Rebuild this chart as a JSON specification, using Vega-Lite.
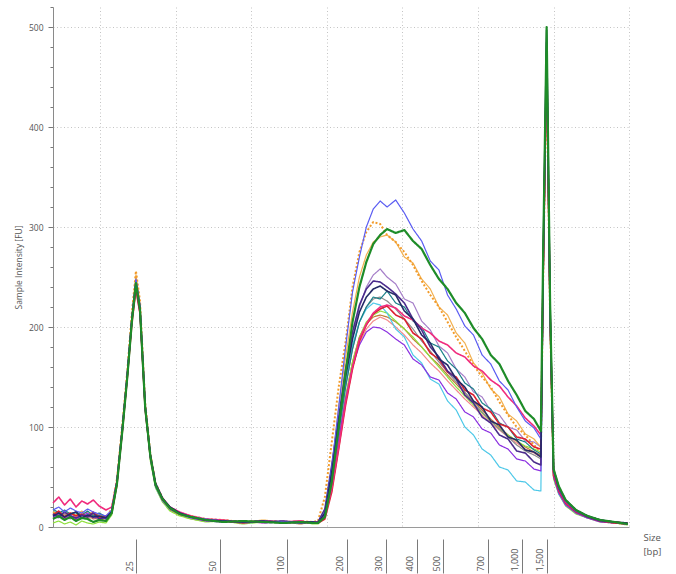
{
"$schema":"https://vega.github.io/schema/vega-lite/v6.json",
"width":576,"height":520,"autosize":"none",
"padding":{"left":53,"top":7,"right":47,"bottom":47},
"background":"white",
"config":{"view":{"stroke":null},"font":"Open Sans"},
"layer":[
{"data":{"values":[{"m":0,"v":0},{"m":100,"v":520}]},
"mark":{"type":"point","opacity":0},
"encoding":{
"x":{"field":"m","type":"quantitative","scale":{"domain":[0,100],"nice":false,"zero":false},
"axis":{"orient":"bottom","values":[8.16,21.28,34.41,47.53,60.66,73.78,86.91,100],"grid":true,"gridColor":"#c4c4c4","gridDash":[1,2.5],"gridWidth":1,"ticks":false,"labels":false,"domain":true,"domainColor":"#9a9a9a","domainWidth":1,"title":null,"zindex":0}},
"y":{"field":"v","type":"quantitative","scale":{"domain":[0,520],"nice":false,"zero":true},
"axis":{"orient":"left","values":[20,40,60,80,120,140,160,180,220,240,260,280,320,340,360,380,420,440,460,480,520],"grid":false,"ticks":true,"tickSize":3,"tickColor":"#777","labels":false,"domain":false,"title":null}}}},
{"data":{"values":[
{"s":"O","m":0,"v":12},{"s":"O","m":1,"v":10},{"s":"O","m":2,"v":14},{"s":"O","m":3,"v":9},{"s":"O","m":4,"v":11},{"s":"O","m":5,"v":13},{"s":"O","m":6,"v":8},{"s":"O","m":7,"v":10},{"s":"O","m":8,"v":7},{"s":"O","m":9.2,"v":9},
{"s":"O","m":10.2,"v":16},{"s":"O","m":11.1,"v":44},{"s":"O","m":12,"v":92},{"s":"O","m":12.9,"v":148},{"s":"O","m":13.7,"v":200},{"s":"O","m":14.4,"v":236},{"s":"O","m":15.1,"v":212},{"s":"O","m":16,"v":115},{"s":"O","m":16.9,"v":70},{"s":"O","m":17.8,"v":40},{"s":"O","m":19,"v":27},{"s":"O","m":20.3,"v":18},
{"s":"O","m":22,"v":13},{"s":"O","m":24,"v":9},{"s":"O","m":26.5,"v":7},{"s":"O","m":29.5,"v":5},{"s":"O","m":33,"v":6},{"s":"O","m":36.5,"v":4},{"s":"O","m":40,"v":6},{"s":"O","m":43,"v":5},{"s":"O","m":45,"v":4},
{"s":"O","m":46,"v":4},{"s":"O","m":47.2,"v":10},{"s":"O","m":48.4,"v":40},{"s":"O","m":49.6,"v":82},{"s":"O","m":50.8,"v":125},{"s":"O","m":52,"v":160},{"s":"O","m":53.2,"v":184},{"s":"O","m":54.4,"v":198},{"s":"O","m":55.6,"v":206},{"s":"O","m":56.8,"v":210},{"s":"O","m":58,"v":207},{"s":"O","m":59.5,"v":200},{"s":"O","m":61,"v":192},{"s":"O","m":62.5,"v":182},{"s":"O","m":64,"v":174},{"s":"O","m":65.5,"v":164},{"s":"O","m":67,"v":156},{"s":"O","m":68.5,"v":146},{"s":"O","m":70,"v":137},{"s":"O","m":71.5,"v":128},{"s":"O","m":73,"v":120},{"s":"O","m":74.5,"v":112},{"s":"O","m":76,"v":104},{"s":"O","m":77.5,"v":97},{"s":"O","m":79,"v":90},{"s":"O","m":80.5,"v":84},{"s":"O","m":82,"v":78},{"s":"O","m":83.5,"v":74},{"s":"O","m":84.7,"v":70},
{"s":"O","m":85.1,"v":240},{"s":"O","m":85.7,"v":455},{"s":"O","m":86.3,"v":210},{"s":"O","m":86.9,"v":52},
{"s":"O","m":87.8,"v":34},{"s":"O","m":89,"v":22},{"s":"O","m":90.8,"v":14},{"s":"O","m":92.8,"v":9},{"s":"O","m":95,"v":6},{"s":"O","m":97.5,"v":4},{"s":"O","m":99.8,"v":3},

{"s":"P","m":0,"v":9},{"s":"P","m":1,"v":12},{"s":"P","m":2,"v":8},{"s":"P","m":3,"v":11},{"s":"P","m":4,"v":7},{"s":"P","m":5,"v":10},{"s":"P","m":6,"v":12},{"s":"P","m":7,"v":8},{"s":"P","m":8,"v":9},{"s":"P","m":9.2,"v":6},
{"s":"P","m":10.2,"v":14},{"s":"P","m":11.1,"v":46},{"s":"P","m":12,"v":96},{"s":"P","m":12.9,"v":152},{"s":"P","m":13.7,"v":206},{"s":"P","m":14.4,"v":243},{"s":"P","m":15.1,"v":218},{"s":"P","m":16,"v":120},{"s":"P","m":16.9,"v":68},{"s":"P","m":17.8,"v":41},{"s":"P","m":19,"v":26},{"s":"P","m":20.3,"v":17},
{"s":"P","m":22,"v":12},{"s":"P","m":24,"v":8},{"s":"P","m":26.5,"v":6},{"s":"P","m":29.5,"v":7},{"s":"P","m":33,"v":4},{"s":"P","m":36.5,"v":6},{"s":"P","m":40,"v":5},{"s":"P","m":43,"v":3},{"s":"P","m":45,"v":5},
{"s":"P","m":46,"v":4},{"s":"P","m":47.2,"v":12},{"s":"P","m":48.4,"v":45},{"s":"P","m":49.6,"v":88},{"s":"P","m":50.8,"v":130},{"s":"P","m":52,"v":165},{"s":"P","m":53.2,"v":190},{"s":"P","m":54.4,"v":203},{"s":"P","m":55.6,"v":210},{"s":"P","m":56.8,"v":212},{"s":"P","m":58,"v":210},{"s":"P","m":59.5,"v":205},{"s":"P","m":61,"v":198},{"s":"P","m":62.5,"v":188},{"s":"P","m":64,"v":180},{"s":"P","m":65.5,"v":170},{"s":"P","m":67,"v":162},{"s":"P","m":68.5,"v":152},{"s":"P","m":70,"v":143},{"s":"P","m":71.5,"v":134},{"s":"P","m":73,"v":126},{"s":"P","m":74.5,"v":117},{"s":"P","m":76,"v":108},{"s":"P","m":77.5,"v":100},{"s":"P","m":79,"v":92},{"s":"P","m":80.5,"v":86},{"s":"P","m":82,"v":80},{"s":"P","m":83.5,"v":75},{"s":"P","m":84.7,"v":72},
{"s":"P","m":85.1,"v":250},{"s":"P","m":85.7,"v":470},{"s":"P","m":86.3,"v":205},{"s":"P","m":86.9,"v":50},
{"s":"P","m":87.8,"v":38},{"s":"P","m":89,"v":25},{"s":"P","m":90.8,"v":16},{"s":"P","m":92.8,"v":11},{"s":"P","m":95,"v":7},{"s":"P","m":97.5,"v":5},{"s":"P","m":99.8,"v":4},

{"s":"K","m":0,"v":4},{"s":"K","m":1,"v":6},{"s":"K","m":2,"v":3},{"s":"K","m":3,"v":5},{"s":"K","m":4,"v":2},{"s":"K","m":5,"v":6},{"s":"K","m":6,"v":4},{"s":"K","m":7,"v":3},{"s":"K","m":8,"v":5},{"s":"K","m":9.2,"v":4},
{"s":"K","m":10.2,"v":12},{"s":"K","m":11.1,"v":42},{"s":"K","m":12,"v":94},{"s":"K","m":12.9,"v":150},{"s":"K","m":13.7,"v":208},{"s":"K","m":14.4,"v":250},{"s":"K","m":15.1,"v":220},{"s":"K","m":16,"v":118},{"s":"K","m":16.9,"v":66},{"s":"K","m":17.8,"v":39},{"s":"K","m":19,"v":25},{"s":"K","m":20.3,"v":16},
{"s":"K","m":22,"v":11},{"s":"K","m":24,"v":8},{"s":"K","m":26.5,"v":5},{"s":"K","m":29.5,"v":6},{"s":"K","m":33,"v":3},{"s":"K","m":36.5,"v":5},{"s":"K","m":40,"v":4},{"s":"K","m":43,"v":6},{"s":"K","m":45,"v":3},
{"s":"K","m":46,"v":3},{"s":"K","m":47.2,"v":10},{"s":"K","m":48.4,"v":40},{"s":"K","m":49.6,"v":85},{"s":"K","m":50.8,"v":130},{"s":"K","m":52,"v":165},{"s":"K","m":53.2,"v":190},{"s":"K","m":54.4,"v":205},{"s":"K","m":55.6,"v":212},{"s":"K","m":56.8,"v":216},{"s":"K","m":58,"v":214},{"s":"K","m":59.5,"v":206},{"s":"K","m":61,"v":198},{"s":"K","m":62.5,"v":190},{"s":"K","m":64,"v":180},{"s":"K","m":65.5,"v":170},{"s":"K","m":67,"v":160},{"s":"K","m":68.5,"v":150},{"s":"K","m":70,"v":140},{"s":"K","m":71.5,"v":131},{"s":"K","m":73,"v":122},{"s":"K","m":74.5,"v":114},{"s":"K","m":76,"v":106},{"s":"K","m":77.5,"v":98},{"s":"K","m":79,"v":92},{"s":"K","m":80.5,"v":86},{"s":"K","m":82,"v":81},{"s":"K","m":83.5,"v":78},{"s":"K","m":84.7,"v":75},
{"s":"K","m":85.1,"v":245},{"s":"K","m":85.7,"v":460},{"s":"K","m":86.3,"v":200},{"s":"K","m":86.9,"v":48},
{"s":"K","m":87.8,"v":33},{"s":"K","m":89,"v":21},{"s":"K","m":90.8,"v":13},{"s":"K","m":92.8,"v":9},{"s":"K","m":95,"v":5},{"s":"K","m":97.5,"v":4},{"s":"K","m":99.8,"v":2},

{"s":"J","m":0,"v":14},{"s":"J","m":1,"v":11},{"s":"J","m":2,"v":13},{"s":"J","m":3,"v":10},{"s":"J","m":4,"v":12},{"s":"J","m":5,"v":9},{"s":"J","m":6,"v":11},{"s":"J","m":7,"v":13},{"s":"J","m":8,"v":10},{"s":"J","m":9.2,"v":8},
{"s":"J","m":10.2,"v":15},{"s":"J","m":11.1,"v":43},{"s":"J","m":12,"v":95},{"s":"J","m":12.9,"v":151},{"s":"J","m":13.7,"v":207},{"s":"J","m":14.4,"v":244},{"s":"J","m":15.1,"v":216},{"s":"J","m":16,"v":118},{"s":"J","m":16.9,"v":70},{"s":"J","m":17.8,"v":41},{"s":"J","m":19,"v":27},{"s":"J","m":20.3,"v":19},
{"s":"J","m":22,"v":14},{"s":"J","m":24,"v":10},{"s":"J","m":26.5,"v":8},{"s":"J","m":29.5,"v":6},{"s":"J","m":33,"v":5},{"s":"J","m":36.5,"v":6},{"s":"J","m":40,"v":4},{"s":"J","m":43,"v":5},{"s":"J","m":45,"v":5},
{"s":"J","m":46,"v":4},{"s":"J","m":47.2,"v":12},{"s":"J","m":48.4,"v":50},{"s":"J","m":49.6,"v":95},{"s":"J","m":50.8,"v":140},{"s":"J","m":52,"v":178},{"s":"J","m":53.2,"v":205},{"s":"J","m":54.4,"v":220},{"s":"J","m":55.6,"v":228},{"s":"J","m":56.8,"v":230},{"s":"J","m":58,"v":226},{"s":"J","m":59.5,"v":218},{"s":"J","m":61,"v":208},{"s":"J","m":62.5,"v":198},{"s":"J","m":64,"v":186},{"s":"J","m":65.5,"v":176},{"s":"J","m":67,"v":165},{"s":"J","m":68.5,"v":155},{"s":"J","m":70,"v":145},{"s":"J","m":71.5,"v":135},{"s":"J","m":73,"v":124},{"s":"J","m":74.5,"v":115},{"s":"J","m":76,"v":106},{"s":"J","m":77.5,"v":98},{"s":"J","m":79,"v":90},{"s":"J","m":80.5,"v":82},{"s":"J","m":82,"v":76},{"s":"J","m":83.5,"v":72},{"s":"J","m":84.7,"v":68},
{"s":"J","m":85.1,"v":255},{"s":"J","m":85.7,"v":475},{"s":"J","m":86.3,"v":215},{"s":"J","m":86.9,"v":55},
{"s":"J","m":87.8,"v":37},{"s":"J","m":89,"v":24},{"s":"J","m":90.8,"v":15},{"s":"J","m":92.8,"v":10},{"s":"J","m":95,"v":6},{"s":"J","m":97.5,"v":5},{"s":"J","m":99.8,"v":3},

{"s":"E","m":0,"v":11},{"s":"E","m":1,"v":9},{"s":"E","m":2,"v":12},{"s":"E","m":3,"v":8},{"s":"E","m":4,"v":13},{"s":"E","m":5,"v":10},{"s":"E","m":6,"v":9},{"s":"E","m":7,"v":11},{"s":"E","m":8,"v":8},{"s":"E","m":9.2,"v":10},
{"s":"E","m":10.2,"v":16},{"s":"E","m":11.1,"v":46},{"s":"E","m":12,"v":97},{"s":"E","m":12.9,"v":153},{"s":"E","m":13.7,"v":210},{"s":"E","m":14.4,"v":246},{"s":"E","m":15.1,"v":220},{"s":"E","m":16,"v":121},{"s":"E","m":16.9,"v":71},{"s":"E","m":17.8,"v":42},{"s":"E","m":19,"v":28},{"s":"E","m":20.3,"v":18},
{"s":"E","m":22,"v":13},{"s":"E","m":24,"v":9},{"s":"E","m":26.5,"v":7},{"s":"E","m":29.5,"v":6},{"s":"E","m":33,"v":5},{"s":"E","m":36.5,"v":5},{"s":"E","m":40,"v":6},{"s":"E","m":43,"v":4},{"s":"E","m":45,"v":5},
{"s":"E","m":46,"v":4},{"s":"E","m":47.2,"v":12},{"s":"E","m":48.4,"v":50},{"s":"E","m":49.6,"v":100},{"s":"E","m":50.8,"v":150},{"s":"E","m":52,"v":190},{"s":"E","m":53.2,"v":220},{"s":"E","m":54.4,"v":240},{"s":"E","m":55.6,"v":252},{"s":"E","m":56.8,"v":258},{"s":"E","m":58,"v":250},{"s":"E","m":59.5,"v":243},{"s":"E","m":61,"v":228},{"s":"E","m":62.5,"v":224},{"s":"E","m":64,"v":206},{"s":"E","m":65.5,"v":197},{"s":"E","m":67,"v":181},{"s":"E","m":68.5,"v":174},{"s":"E","m":70,"v":158},{"s":"E","m":71.5,"v":150},{"s":"E","m":73,"v":135},{"s":"E","m":74.5,"v":130},{"s":"E","m":76,"v":116},{"s":"E","m":77.5,"v":112},{"s":"E","m":79,"v":100},{"s":"E","m":80.5,"v":97},{"s":"E","m":82,"v":86},{"s":"E","m":83.5,"v":85},{"s":"E","m":84.7,"v":80},
{"s":"E","m":85.1,"v":250},{"s":"E","m":85.7,"v":468},{"s":"E","m":86.3,"v":212},{"s":"E","m":86.9,"v":52},
{"s":"E","m":87.8,"v":35},{"s":"E","m":89,"v":23},{"s":"E","m":90.8,"v":14},{"s":"E","m":92.8,"v":10},{"s":"E","m":95,"v":6},{"s":"E","m":97.5,"v":4},{"s":"E","m":99.8,"v":3},

{"s":"I","m":0,"v":16},{"s":"I","m":1,"v":13},{"s":"I","m":2,"v":15},{"s":"I","m":3,"v":12},{"s":"I","m":4,"v":14},{"s":"I","m":5,"v":11},{"s":"I","m":6,"v":13},{"s":"I","m":7,"v":10},{"s":"I","m":8,"v":12},{"s":"I","m":9.2,"v":9},
{"s":"I","m":10.2,"v":15},{"s":"I","m":11.1,"v":44},{"s":"I","m":12,"v":93},{"s":"I","m":12.9,"v":150},{"s":"I","m":13.7,"v":205},{"s":"I","m":14.4,"v":238},{"s":"I","m":15.1,"v":214},{"s":"I","m":16,"v":117},{"s":"I","m":16.9,"v":68},{"s":"I","m":17.8,"v":40},{"s":"I","m":19,"v":26},{"s":"I","m":20.3,"v":18},
{"s":"I","m":22,"v":13},{"s":"I","m":24,"v":9},{"s":"I","m":26.5,"v":7},{"s":"I","m":29.5,"v":6},{"s":"I","m":33,"v":4},{"s":"I","m":36.5,"v":5},{"s":"I","m":40,"v":5},{"s":"I","m":43,"v":4},{"s":"I","m":45,"v":5},
{"s":"I","m":46,"v":5},{"s":"I","m":47.2,"v":15},{"s":"I","m":48.4,"v":55},{"s":"I","m":49.6,"v":100},{"s":"I","m":50.8,"v":145},{"s":"I","m":52,"v":182},{"s":"I","m":53.2,"v":205},{"s":"I","m":54.4,"v":218},{"s":"I","m":55.6,"v":224},{"s":"I","m":56.8,"v":222},{"s":"I","m":58,"v":214},{"s":"I","m":59.5,"v":198},{"s":"I","m":61,"v":190},{"s":"I","m":62.5,"v":172},{"s":"I","m":64,"v":164},{"s":"I","m":65.5,"v":148},{"s":"I","m":67,"v":143},{"s":"I","m":68.5,"v":126},{"s":"I","m":70,"v":117},{"s":"I","m":71.5,"v":100},{"s":"I","m":73,"v":92},{"s":"I","m":74.5,"v":78},{"s":"I","m":76,"v":72},{"s":"I","m":77.5,"v":60},{"s":"I","m":79,"v":57},{"s":"I","m":80.5,"v":46},{"s":"I","m":82,"v":45},{"s":"I","m":83.5,"v":37},{"s":"I","m":84.7,"v":36},
{"s":"I","m":85.1,"v":240},{"s":"I","m":85.7,"v":460},{"s":"I","m":86.3,"v":205},{"s":"I","m":86.9,"v":50},
{"s":"I","m":87.8,"v":33},{"s":"I","m":89,"v":22},{"s":"I","m":90.8,"v":14},{"s":"I","m":92.8,"v":9},{"s":"I","m":95,"v":6},{"s":"I","m":97.5,"v":4},{"s":"I","m":99.8,"v":3},

{"s":"D","m":0,"v":13},{"s":"D","m":1,"v":15},{"s":"D","m":2,"v":11},{"s":"D","m":3,"v":14},{"s":"D","m":4,"v":12},{"s":"D","m":5,"v":16},{"s":"D","m":6,"v":10},{"s":"D","m":7,"v":13},{"s":"D","m":8,"v":11},{"s":"D","m":9.2,"v":9},
{"s":"D","m":10.2,"v":17},{"s":"D","m":11.1,"v":47},{"s":"D","m":12,"v":99},{"s":"D","m":12.9,"v":155},{"s":"D","m":13.7,"v":212},{"s":"D","m":14.4,"v":252},{"s":"D","m":15.1,"v":224},{"s":"D","m":16,"v":123},{"s":"D","m":16.9,"v":72},{"s":"D","m":17.8,"v":43},{"s":"D","m":19,"v":28},{"s":"D","m":20.3,"v":19},
{"s":"D","m":22,"v":14},{"s":"D","m":24,"v":10},{"s":"D","m":26.5,"v":8},{"s":"D","m":29.5,"v":6},{"s":"D","m":33,"v":5},{"s":"D","m":36.5,"v":7},{"s":"D","m":40,"v":5},{"s":"D","m":43,"v":6},{"s":"D","m":45,"v":4},
{"s":"D","m":46,"v":5},{"s":"D","m":47.2,"v":15},{"s":"D","m":48.4,"v":60},{"s":"D","m":49.6,"v":120},{"s":"D","m":50.8,"v":170},{"s":"D","m":52,"v":215},{"s":"D","m":53.2,"v":250},{"s":"D","m":54.4,"v":272},{"s":"D","m":55.6,"v":285},{"s":"D","m":56.8,"v":290},{"s":"D","m":58,"v":292},{"s":"D","m":59.5,"v":285},{"s":"D","m":61,"v":270},{"s":"D","m":62.5,"v":264},{"s":"D","m":64,"v":248},{"s":"D","m":65.5,"v":238},{"s":"D","m":67,"v":220},{"s":"D","m":68.5,"v":212},{"s":"D","m":70,"v":194},{"s":"D","m":71.5,"v":184},{"s":"D","m":73,"v":164},{"s":"D","m":74.5,"v":154},{"s":"D","m":76,"v":138},{"s":"D","m":77.5,"v":130},{"s":"D","m":79,"v":113},{"s":"D","m":80.5,"v":106},{"s":"D","m":82,"v":93},{"s":"D","m":83.5,"v":88},{"s":"D","m":84.7,"v":80},
{"s":"D","m":85.1,"v":255},{"s":"D","m":85.7,"v":472},{"s":"D","m":86.3,"v":214},{"s":"D","m":86.9,"v":54},
{"s":"D","m":87.8,"v":38},{"s":"D","m":89,"v":25},{"s":"D","m":90.8,"v":16},{"s":"D","m":92.8,"v":11},{"s":"D","m":95,"v":7},{"s":"D","m":97.5,"v":5},{"s":"D","m":99.8,"v":4},

{"s":"C","m":0,"v":15},{"s":"C","m":1,"v":12},{"s":"C","m":2,"v":16},{"s":"C","m":3,"v":11},{"s":"C","m":4,"v":14},{"s":"C","m":5,"v":10},{"s":"C","m":6,"v":15},{"s":"C","m":7,"v":12},{"s":"C","m":8,"v":13},{"s":"C","m":9.2,"v":10},
{"s":"C","m":10.2,"v":18},{"s":"C","m":11.1,"v":48},{"s":"C","m":12,"v":100},{"s":"C","m":12.9,"v":156},{"s":"C","m":13.7,"v":214},{"s":"C","m":14.4,"v":256},{"s":"C","m":15.1,"v":226},{"s":"C","m":16,"v":124},{"s":"C","m":16.9,"v":73},{"s":"C","m":17.8,"v":44},{"s":"C","m":19,"v":29},{"s":"C","m":20.3,"v":19},
{"s":"C","m":22,"v":14},{"s":"C","m":24,"v":11},{"s":"C","m":26.5,"v":8},{"s":"C","m":29.5,"v":7},{"s":"C","m":33,"v":5},{"s":"C","m":36.5,"v":6},{"s":"C","m":40,"v":4},{"s":"C","m":43,"v":6},{"s":"C","m":45,"v":5},
{"s":"C","m":46,"v":6},{"s":"C","m":47.2,"v":30},{"s":"C","m":48.4,"v":85},{"s":"C","m":49.6,"v":140},{"s":"C","m":50.8,"v":185},{"s":"C","m":52,"v":240},{"s":"C","m":53.2,"v":275},{"s":"C","m":54.4,"v":295},{"s":"C","m":55.6,"v":305},{"s":"C","m":56.8,"v":303},{"s":"C","m":58,"v":292},{"s":"C","m":59.5,"v":285},{"s":"C","m":61,"v":275},{"s":"C","m":62.5,"v":262},{"s":"C","m":64,"v":246},{"s":"C","m":65.5,"v":232},{"s":"C","m":67,"v":220},{"s":"C","m":68.5,"v":205},{"s":"C","m":70,"v":190},{"s":"C","m":71.5,"v":176},{"s":"C","m":73,"v":162},{"s":"C","m":74.5,"v":150},{"s":"C","m":76,"v":140},{"s":"C","m":77.5,"v":125},{"s":"C","m":79,"v":112},{"s":"C","m":80.5,"v":100},{"s":"C","m":82,"v":92},{"s":"C","m":83.5,"v":82},{"s":"C","m":84.7,"v":75},
{"s":"C","m":85.1,"v":250},{"s":"C","m":85.7,"v":465},{"s":"C","m":86.3,"v":210},{"s":"C","m":86.9,"v":52},
{"s":"C","m":87.8,"v":36},{"s":"C","m":89,"v":24},{"s":"C","m":90.8,"v":15},{"s":"C","m":92.8,"v":10},{"s":"C","m":95,"v":6},{"s":"C","m":97.5,"v":5},{"s":"C","m":99.8,"v":3},

{"s":"H","m":0,"v":18},{"s":"H","m":1,"v":14},{"s":"H","m":2,"v":17},{"s":"H","m":3,"v":13},{"s":"H","m":4,"v":15},{"s":"H","m":5,"v":12},{"s":"H","m":6,"v":16},{"s":"H","m":7,"v":11},{"s":"H","m":8,"v":14},{"s":"H","m":9.2,"v":10},
{"s":"H","m":10.2,"v":16},{"s":"H","m":11.1,"v":45},{"s":"H","m":12,"v":97},{"s":"H","m":12.9,"v":152},{"s":"H","m":13.7,"v":209},{"s":"H","m":14.4,"v":245},{"s":"H","m":15.1,"v":219},{"s":"H","m":16,"v":121},{"s":"H","m":16.9,"v":72},{"s":"H","m":17.8,"v":43},{"s":"H","m":19,"v":28},{"s":"H","m":20.3,"v":19},
{"s":"H","m":22,"v":14},{"s":"H","m":24,"v":10},{"s":"H","m":26.5,"v":7},{"s":"H","m":29.5,"v":6},{"s":"H","m":33,"v":5},{"s":"H","m":36.5,"v":6},{"s":"H","m":40,"v":5},{"s":"H","m":43,"v":4},{"s":"H","m":45,"v":5},
{"s":"H","m":46,"v":4},{"s":"H","m":47.2,"v":12},{"s":"H","m":48.4,"v":48},{"s":"H","m":49.6,"v":95},{"s":"H","m":50.8,"v":140},{"s":"H","m":52,"v":178},{"s":"H","m":53.2,"v":205},{"s":"H","m":54.4,"v":220},{"s":"H","m":55.6,"v":230},{"s":"H","m":56.8,"v":228},{"s":"H","m":58,"v":236},{"s":"H","m":59.5,"v":224},{"s":"H","m":61,"v":220},{"s":"H","m":62.5,"v":206},{"s":"H","m":64,"v":200},{"s":"H","m":65.5,"v":184},{"s":"H","m":67,"v":180},{"s":"H","m":68.5,"v":166},{"s":"H","m":70,"v":158},{"s":"H","m":71.5,"v":144},{"s":"H","m":73,"v":138},{"s":"H","m":74.5,"v":124},{"s":"H","m":76,"v":118},{"s":"H","m":77.5,"v":104},{"s":"H","m":79,"v":100},{"s":"H","m":80.5,"v":88},{"s":"H","m":82,"v":85},{"s":"H","m":83.5,"v":77},{"s":"H","m":84.7,"v":73},
{"s":"H","m":85.1,"v":265},{"s":"H","m":85.7,"v":488},{"s":"H","m":86.3,"v":220},{"s":"H","m":86.9,"v":56},
{"s":"H","m":87.8,"v":40},{"s":"H","m":89,"v":26},{"s":"H","m":90.8,"v":16},{"s":"H","m":92.8,"v":11},{"s":"H","m":95,"v":7},{"s":"H","m":97.5,"v":5},{"s":"H","m":99.8,"v":3},

{"s":"N","m":0,"v":10},{"s":"N","m":1,"v":13},{"s":"N","m":2,"v":9},{"s":"N","m":3,"v":12},{"s":"N","m":4,"v":8},{"s":"N","m":5,"v":11},{"s":"N","m":6,"v":14},{"s":"N","m":7,"v":9},{"s":"N","m":8,"v":10},{"s":"N","m":9.2,"v":8},
{"s":"N","m":10.2,"v":15},{"s":"N","m":11.1,"v":43},{"s":"N","m":12,"v":94},{"s":"N","m":12.9,"v":150},{"s":"N","m":13.7,"v":206},{"s":"N","m":14.4,"v":240},{"s":"N","m":15.1,"v":214},{"s":"N","m":16,"v":119},{"s":"N","m":16.9,"v":70},{"s":"N","m":17.8,"v":41},{"s":"N","m":19,"v":27},{"s":"N","m":20.3,"v":18},
{"s":"N","m":22,"v":13},{"s":"N","m":24,"v":9},{"s":"N","m":26.5,"v":6},{"s":"N","m":29.5,"v":5},{"s":"N","m":33,"v":6},{"s":"N","m":36.5,"v":4},{"s":"N","m":40,"v":5},{"s":"N","m":43,"v":6},{"s":"N","m":45,"v":4},
{"s":"N","m":46,"v":5},{"s":"N","m":47.2,"v":12},{"s":"N","m":48.4,"v":45},{"s":"N","m":49.6,"v":88},{"s":"N","m":50.8,"v":128},{"s":"N","m":52,"v":160},{"s":"N","m":53.2,"v":182},{"s":"N","m":54.4,"v":195},{"s":"N","m":55.6,"v":200},{"s":"N","m":56.8,"v":199},{"s":"N","m":58,"v":195},{"s":"N","m":59.5,"v":188},{"s":"N","m":61,"v":182},{"s":"N","m":62.5,"v":168},{"s":"N","m":64,"v":162},{"s":"N","m":65.5,"v":150},{"s":"N","m":67,"v":147},{"s":"N","m":68.5,"v":134},{"s":"N","m":70,"v":128},{"s":"N","m":71.5,"v":115},{"s":"N","m":73,"v":110},{"s":"N","m":74.5,"v":98},{"s":"N","m":76,"v":94},{"s":"N","m":77.5,"v":82},{"s":"N","m":79,"v":78},{"s":"N","m":80.5,"v":68},{"s":"N","m":82,"v":66},{"s":"N","m":83.5,"v":58},{"s":"N","m":84.7,"v":56},
{"s":"N","m":85.1,"v":245},{"s":"N","m":85.7,"v":462},{"s":"N","m":86.3,"v":208},{"s":"N","m":86.9,"v":50},
{"s":"N","m":87.8,"v":34},{"s":"N","m":89,"v":22},{"s":"N","m":90.8,"v":14},{"s":"N","m":92.8,"v":9},{"s":"N","m":95,"v":5},{"s":"N","m":97.5,"v":4},{"s":"N","m":99.8,"v":3},

{"s":"M","m":0,"v":12},{"s":"M","m":1,"v":16},{"s":"M","m":2,"v":10},{"s":"M","m":3,"v":14},{"s":"M","m":4,"v":11},{"s":"M","m":5,"v":13},{"s":"M","m":6,"v":10},{"s":"M","m":7,"v":15},{"s":"M","m":8,"v":9},{"s":"M","m":9.2,"v":11},
{"s":"M","m":10.2,"v":14},{"s":"M","m":11.1,"v":42},{"s":"M","m":12,"v":93},{"s":"M","m":12.9,"v":149},{"s":"M","m":13.7,"v":205},{"s":"M","m":14.4,"v":238},{"s":"M","m":15.1,"v":214},{"s":"M","m":16,"v":118},{"s":"M","m":16.9,"v":70},{"s":"M","m":17.8,"v":42},{"s":"M","m":19,"v":27},{"s":"M","m":20.3,"v":19},
{"s":"M","m":22,"v":13},{"s":"M","m":24,"v":10},{"s":"M","m":26.5,"v":7},{"s":"M","m":29.5,"v":6},{"s":"M","m":33,"v":4},{"s":"M","m":36.5,"v":6},{"s":"M","m":40,"v":5},{"s":"M","m":43,"v":5},{"s":"M","m":45,"v":4},
{"s":"M","m":46,"v":4},{"s":"M","m":47.2,"v":8},{"s":"M","m":48.4,"v":35},{"s":"M","m":49.6,"v":78},{"s":"M","m":50.8,"v":122},{"s":"M","m":52,"v":158},{"s":"M","m":53.2,"v":186},{"s":"M","m":54.4,"v":202},{"s":"M","m":55.6,"v":213},{"s":"M","m":56.8,"v":218},{"s":"M","m":58,"v":221},{"s":"M","m":59.5,"v":212},{"s":"M","m":61,"v":208},{"s":"M","m":62.5,"v":194},{"s":"M","m":64,"v":188},{"s":"M","m":65.5,"v":174},{"s":"M","m":67,"v":168},{"s":"M","m":68.5,"v":155},{"s":"M","m":70,"v":150},{"s":"M","m":71.5,"v":137},{"s":"M","m":73,"v":132},{"s":"M","m":74.5,"v":119},{"s":"M","m":76,"v":115},{"s":"M","m":77.5,"v":103},{"s":"M","m":79,"v":100},{"s":"M","m":80.5,"v":90},{"s":"M","m":82,"v":88},{"s":"M","m":83.5,"v":80},{"s":"M","m":84.7,"v":78},
{"s":"M","m":85.1,"v":250},{"s":"M","m":85.7,"v":466},{"s":"M","m":86.3,"v":212},{"s":"M","m":86.9,"v":52},
{"s":"M","m":87.8,"v":36},{"s":"M","m":89,"v":24},{"s":"M","m":90.8,"v":15},{"s":"M","m":92.8,"v":10},{"s":"M","m":95,"v":6},{"s":"M","m":97.5,"v":4},{"s":"M","m":99.8,"v":3},

{"s":"L","m":0,"v":24},{"s":"L","m":1,"v":30},{"s":"L","m":2,"v":22},{"s":"L","m":3,"v":28},{"s":"L","m":4,"v":20},{"s":"L","m":5,"v":26},{"s":"L","m":6,"v":23},{"s":"L","m":7,"v":27},{"s":"L","m":8,"v":21},{"s":"L","m":9.2,"v":17},
{"s":"L","m":10.2,"v":20},{"s":"L","m":11.1,"v":46},{"s":"L","m":12,"v":96},{"s":"L","m":12.9,"v":152},{"s":"L","m":13.7,"v":208},{"s":"L","m":14.4,"v":242},{"s":"L","m":15.1,"v":218},{"s":"L","m":16,"v":122},{"s":"L","m":16.9,"v":72},{"s":"L","m":17.8,"v":43},{"s":"L","m":19,"v":29},{"s":"L","m":20.3,"v":20},
{"s":"L","m":22,"v":15},{"s":"L","m":24,"v":11},{"s":"L","m":26.5,"v":8},{"s":"L","m":29.5,"v":7},{"s":"L","m":33,"v":5},{"s":"L","m":36.5,"v":6},{"s":"L","m":40,"v":5},{"s":"L","m":43,"v":6},{"s":"L","m":45,"v":4},
{"s":"L","m":46,"v":5},{"s":"L","m":47.2,"v":10},{"s":"L","m":48.4,"v":38},{"s":"L","m":49.6,"v":80},{"s":"L","m":50.8,"v":125},{"s":"L","m":52,"v":160},{"s":"L","m":53.2,"v":188},{"s":"L","m":54.4,"v":203},{"s":"L","m":55.6,"v":214},{"s":"L","m":56.8,"v":220},{"s":"L","m":58,"v":222},{"s":"L","m":59.5,"v":219},{"s":"L","m":61,"v":211},{"s":"L","m":62.5,"v":207},{"s":"L","m":64,"v":199},{"s":"L","m":65.5,"v":194},{"s":"L","m":67,"v":186},{"s":"L","m":68.5,"v":182},{"s":"L","m":70,"v":174},{"s":"L","m":71.5,"v":170},{"s":"L","m":73,"v":161},{"s":"L","m":74.5,"v":156},{"s":"L","m":76,"v":147},{"s":"L","m":77.5,"v":141},{"s":"L","m":79,"v":130},{"s":"L","m":80.5,"v":121},{"s":"L","m":82,"v":109},{"s":"L","m":83.5,"v":101},{"s":"L","m":84.7,"v":92},
{"s":"L","m":85.1,"v":258},{"s":"L","m":85.7,"v":470},{"s":"L","m":86.3,"v":215},{"s":"L","m":86.9,"v":54},
{"s":"L","m":87.8,"v":37},{"s":"L","m":89,"v":25},{"s":"L","m":90.8,"v":16},{"s":"L","m":92.8,"v":10},{"s":"L","m":95,"v":6},{"s":"L","m":97.5,"v":5},{"s":"L","m":99.8,"v":3},

{"s":"F","m":0,"v":13},{"s":"F","m":1,"v":10},{"s":"F","m":2,"v":15},{"s":"F","m":3,"v":11},{"s":"F","m":4,"v":9},{"s":"F","m":5,"v":12},{"s":"F","m":6,"v":10},{"s":"F","m":7,"v":14},{"s":"F","m":8,"v":8},{"s":"F","m":9.2,"v":10},
{"s":"F","m":10.2,"v":16},{"s":"F","m":11.1,"v":45},{"s":"F","m":12,"v":96},{"s":"F","m":12.9,"v":152},{"s":"F","m":13.7,"v":208},{"s":"F","m":14.4,"v":246},{"s":"F","m":15.1,"v":220},{"s":"F","m":16,"v":121},{"s":"F","m":16.9,"v":71},{"s":"F","m":17.8,"v":42},{"s":"F","m":19,"v":28},{"s":"F","m":20.3,"v":19},
{"s":"F","m":22,"v":13},{"s":"F","m":24,"v":10},{"s":"F","m":26.5,"v":7},{"s":"F","m":29.5,"v":6},{"s":"F","m":33,"v":5},{"s":"F","m":36.5,"v":5},{"s":"F","m":40,"v":6},{"s":"F","m":43,"v":4},{"s":"F","m":45,"v":5},
{"s":"F","m":46,"v":5},{"s":"F","m":47.2,"v":18},{"s":"F","m":48.4,"v":62},{"s":"F","m":49.6,"v":110},{"s":"F","m":50.8,"v":158},{"s":"F","m":52,"v":195},{"s":"F","m":53.2,"v":222},{"s":"F","m":54.4,"v":238},{"s":"F","m":55.6,"v":246},{"s":"F","m":56.8,"v":245},{"s":"F","m":58,"v":240},{"s":"F","m":59.5,"v":233},{"s":"F","m":61,"v":224},{"s":"F","m":62.5,"v":208},{"s":"F","m":64,"v":197},{"s":"F","m":65.5,"v":180},{"s":"F","m":67,"v":170},{"s":"F","m":68.5,"v":156},{"s":"F","m":70,"v":148},{"s":"F","m":71.5,"v":132},{"s":"F","m":73,"v":124},{"s":"F","m":74.5,"v":110},{"s":"F","m":76,"v":104},{"s":"F","m":77.5,"v":92},{"s":"F","m":79,"v":88},{"s":"F","m":80.5,"v":76},{"s":"F","m":82,"v":74},{"s":"F","m":83.5,"v":65},{"s":"F","m":84.7,"v":62},
{"s":"F","m":85.1,"v":262},{"s":"F","m":85.7,"v":485},{"s":"F","m":86.3,"v":218},{"s":"F","m":86.9,"v":56},
{"s":"F","m":87.8,"v":38},{"s":"F","m":89,"v":26},{"s":"F","m":90.8,"v":16},{"s":"F","m":92.8,"v":10},{"s":"F","m":95,"v":6},{"s":"F","m":97.5,"v":5},{"s":"F","m":99.8,"v":3},

{"s":"A","m":0,"v":17},{"s":"A","m":1,"v":20},{"s":"A","m":2,"v":15},{"s":"A","m":3,"v":19},{"s":"A","m":4,"v":16},{"s":"A","m":5,"v":14},{"s":"A","m":6,"v":18},{"s":"A","m":7,"v":15},{"s":"A","m":8,"v":13},{"s":"A","m":9.2,"v":11},
{"s":"A","m":10.2,"v":17},{"s":"A","m":11.1,"v":46},{"s":"A","m":12,"v":98},{"s":"A","m":12.9,"v":154},{"s":"A","m":13.7,"v":210},{"s":"A","m":14.4,"v":248},{"s":"A","m":15.1,"v":222},{"s":"A","m":16,"v":122},{"s":"A","m":16.9,"v":71},{"s":"A","m":17.8,"v":42},{"s":"A","m":19,"v":28},{"s":"A","m":20.3,"v":19},
{"s":"A","m":22,"v":14},{"s":"A","m":24,"v":10},{"s":"A","m":26.5,"v":8},{"s":"A","m":29.5,"v":6},{"s":"A","m":33,"v":5},{"s":"A","m":36.5,"v":6},{"s":"A","m":40,"v":5},{"s":"A","m":43,"v":5},{"s":"A","m":45,"v":4},
{"s":"A","m":46,"v":4},{"s":"A","m":47.2,"v":15},{"s":"A","m":48.4,"v":60},{"s":"A","m":49.6,"v":120},{"s":"A","m":50.8,"v":180},{"s":"A","m":52,"v":235},{"s":"A","m":53.2,"v":270},{"s":"A","m":54.4,"v":300},{"s":"A","m":55.6,"v":318},{"s":"A","m":56.8,"v":326},{"s":"A","m":58,"v":320},{"s":"A","m":59.5,"v":327},{"s":"A","m":61,"v":314},{"s":"A","m":62.5,"v":298},{"s":"A","m":64,"v":286},{"s":"A","m":65.5,"v":266},{"s":"A","m":67,"v":257},{"s":"A","m":68.5,"v":232},{"s":"A","m":70,"v":218},{"s":"A","m":71.5,"v":201},{"s":"A","m":73,"v":192},{"s":"A","m":74.5,"v":172},{"s":"A","m":76,"v":163},{"s":"A","m":77.5,"v":146},{"s":"A","m":79,"v":137},{"s":"A","m":80.5,"v":120},{"s":"A","m":82,"v":106},{"s":"A","m":83.5,"v":99},{"s":"A","m":84.7,"v":88},
{"s":"A","m":85.1,"v":268},{"s":"A","m":85.7,"v":492},{"s":"A","m":86.3,"v":222},{"s":"A","m":86.9,"v":57},
{"s":"A","m":87.8,"v":39},{"s":"A","m":89,"v":26},{"s":"A","m":90.8,"v":16},{"s":"A","m":92.8,"v":11},{"s":"A","m":95,"v":7},{"s":"A","m":97.5,"v":5},{"s":"A","m":99.8,"v":3},

{"s":"G","m":0,"v":11},{"s":"G","m":1,"v":14},{"s":"G","m":2,"v":10},{"s":"G","m":3,"v":13},{"s":"G","m":4,"v":15},{"s":"G","m":5,"v":9},{"s":"G","m":6,"v":12},{"s":"G","m":7,"v":10},{"s":"G","m":8,"v":11},{"s":"G","m":9.2,"v":9},
{"s":"G","m":10.2,"v":15},{"s":"G","m":11.1,"v":44},{"s":"G","m":12,"v":95},{"s":"G","m":12.9,"v":151},{"s":"G","m":13.7,"v":207},{"s":"G","m":14.4,"v":243},{"s":"G","m":15.1,"v":217},{"s":"G","m":16,"v":120},{"s":"G","m":16.9,"v":72},{"s":"G","m":17.8,"v":44},{"s":"G","m":19,"v":29},{"s":"G","m":20.3,"v":20},
{"s":"G","m":22,"v":14},{"s":"G","m":24,"v":10},{"s":"G","m":26.5,"v":7},{"s":"G","m":29.5,"v":6},{"s":"G","m":33,"v":5},{"s":"G","m":36.5,"v":6},{"s":"G","m":40,"v":4},{"s":"G","m":43,"v":5},{"s":"G","m":45,"v":5},
{"s":"G","m":46,"v":4},{"s":"G","m":47.2,"v":14},{"s":"G","m":48.4,"v":55},{"s":"G","m":49.6,"v":105},{"s":"G","m":50.8,"v":150},{"s":"G","m":52,"v":188},{"s":"G","m":53.2,"v":215},{"s":"G","m":54.4,"v":230},{"s":"G","m":55.6,"v":238},{"s":"G","m":56.8,"v":241},{"s":"G","m":58,"v":236},{"s":"G","m":59.5,"v":232},{"s":"G","m":61,"v":216},{"s":"G","m":62.5,"v":208},{"s":"G","m":64,"v":192},{"s":"G","m":65.5,"v":184},{"s":"G","m":67,"v":168},{"s":"G","m":68.5,"v":162},{"s":"G","m":70,"v":148},{"s":"G","m":71.5,"v":140},{"s":"G","m":73,"v":126},{"s":"G","m":74.5,"v":120},{"s":"G","m":76,"v":106},{"s":"G","m":77.5,"v":102},{"s":"G","m":79,"v":90},{"s":"G","m":80.5,"v":87},{"s":"G","m":82,"v":77},{"s":"G","m":83.5,"v":75},{"s":"G","m":84.7,"v":70},
{"s":"G","m":85.1,"v":272},{"s":"G","m":85.7,"v":497},{"s":"G","m":86.3,"v":224},{"s":"G","m":86.9,"v":58},
{"s":"G","m":87.8,"v":40},{"s":"G","m":89,"v":27},{"s":"G","m":90.8,"v":17},{"s":"G","m":92.8,"v":11},{"s":"G","m":95,"v":7},{"s":"G","m":97.5,"v":5},{"s":"G","m":99.8,"v":4},

{"s":"B","m":0,"v":8},{"s":"B","m":1,"v":11},{"s":"B","m":2,"v":7},{"s":"B","m":3,"v":10},{"s":"B","m":4,"v":6},{"s":"B","m":5,"v":9},{"s":"B","m":6,"v":8},{"s":"B","m":7,"v":5},{"s":"B","m":8,"v":7},{"s":"B","m":9.2,"v":6},
{"s":"B","m":10.2,"v":14},{"s":"B","m":11.1,"v":43},{"s":"B","m":12,"v":94},{"s":"B","m":12.9,"v":150},{"s":"B","m":13.7,"v":206},{"s":"B","m":14.4,"v":244},{"s":"B","m":15.1,"v":218},{"s":"B","m":16,"v":120},{"s":"B","m":16.9,"v":71},{"s":"B","m":17.8,"v":42},{"s":"B","m":19,"v":28},{"s":"B","m":20.3,"v":19},
{"s":"B","m":22,"v":13},{"s":"B","m":24,"v":10},{"s":"B","m":26.5,"v":7},{"s":"B","m":29.5,"v":5},{"s":"B","m":33,"v":6},{"s":"B","m":36.5,"v":5},{"s":"B","m":40,"v":4},{"s":"B","m":43,"v":5},{"s":"B","m":45,"v":4},
{"s":"B","m":46,"v":4},{"s":"B","m":47.2,"v":10},{"s":"B","m":48.4,"v":45},{"s":"B","m":49.6,"v":100},{"s":"B","m":50.8,"v":155},{"s":"B","m":52,"v":205},{"s":"B","m":53.2,"v":240},{"s":"B","m":54.4,"v":265},{"s":"B","m":55.6,"v":283},{"s":"B","m":56.8,"v":292},{"s":"B","m":58,"v":298},{"s":"B","m":59.5,"v":294},{"s":"B","m":61,"v":297},{"s":"B","m":62.5,"v":286},{"s":"B","m":64,"v":278},{"s":"B","m":65.5,"v":262},{"s":"B","m":67,"v":248},{"s":"B","m":68.5,"v":238},{"s":"B","m":70,"v":224},{"s":"B","m":71.5,"v":214},{"s":"B","m":73,"v":199},{"s":"B","m":74.5,"v":188},{"s":"B","m":76,"v":172},{"s":"B","m":77.5,"v":163},{"s":"B","m":79,"v":146},{"s":"B","m":80.5,"v":132},{"s":"B","m":82,"v":116},{"s":"B","m":83.5,"v":108},{"s":"B","m":84.7,"v":96},
{"s":"B","m":85.1,"v":275},{"s":"B","m":85.7,"v":500},{"s":"B","m":86.3,"v":225},{"s":"B","m":86.9,"v":58},
{"s":"B","m":87.8,"v":41},{"s":"B","m":89,"v":27},{"s":"B","m":90.8,"v":17},{"s":"B","m":92.8,"v":11},{"s":"B","m":95,"v":7},{"s":"B","m":97.5,"v":5},{"s":"B","m":99.8,"v":3}
]},
"mark":{"type":"line","interpolate":"linear","strokeJoin":"round"},
"encoding":{
"x":{"field":"m","type":"quantitative","scale":{"domain":[0,100],"nice":false,"zero":false},
"axis":{"orient":"bottom","offset":12,"values":[14.41,28.99,40.63,51.04,57.81,63.19,67.71,75.52,81.42,85.76],
"labelExpr":"datum.value<20?'25':datum.value<35?'50':datum.value<45?'100':datum.value<55?'200':datum.value<60?'300':datum.value<65?'400':datum.value<70?'500':datum.value<78?'700':datum.value<83?'1,000':'1,500'",
"domain":false,"grid":false,"ticks":true,"tickSize":34,"tickColor":"#7a7a7a","tickWidth":1,
"labelAngle":270,"labelAlign":"left","labelBaseline":"bottom","labelPadding":-2,"labelOffset":-2,"labelFontSize":9,"labelColor":"#555","labelOverlap":false,"labelFlush":false,
"title":["Size","[bp]"],"titleX":590,"titleY":-7,"titleAlign":"left","titleBaseline":"top","titleAngle":0,"titleFontSize":9.5,"titleFontWeight":"normal","titleColor":"#555","titleLineHeight":14}},
"y":{"field":"v","type":"quantitative","scale":{"domain":[0,520],"nice":false,"zero":true},
"axis":{"orient":"left","values":[0,100,200,300,400,500],"grid":true,"gridColor":"#c4c4c4","gridDash":[1,2.5],"domain":true,"domainColor":"#8a8a8a","ticks":true,"tickSize":5,"tickColor":"#777","labelFontSize":8.5,"labelColor":"#555","labelPadding":5,
"title":"Sample Intensity [FU]","titleFontSize":8.5,"titleFontWeight":"normal","titleColor":"#555","titleX":-35,"titleY":260,"titleAngle":270,"titleAlign":"center","titleBaseline":"middle"}},
"color":{"field":"s","type":"nominal","legend":null,"scale":{"domain":["O","P","K","J","E","I","D","C","H","N","M","L","F","A","G","B"],"range":["#f4898a","#c07a35","#8ee03c","#8c8c8c","#a67fc9","#4dc8e8","#f2b04f","#f29b2a","#1a8088","#8a2ee0","#dc1f30","#f02a7d","#4b2c8c","#5a5cf2","#252a66","#1e8c28"]}},
"strokeWidth":{"condition":[{"test":"datum.s==='B'","value":2.2},{"test":"datum.s==='C'","value":2},{"test":"indexof(['F','G','M','L'],datum.s)>=0","value":1.6}],"value":1.2},
"strokeDash":{"condition":{"test":"datum.s==='C'","value":[2,2]},"value":[1,0]}}}
],
"resolve":{"axis":{"x":"independent","y":"independent"}}
}
